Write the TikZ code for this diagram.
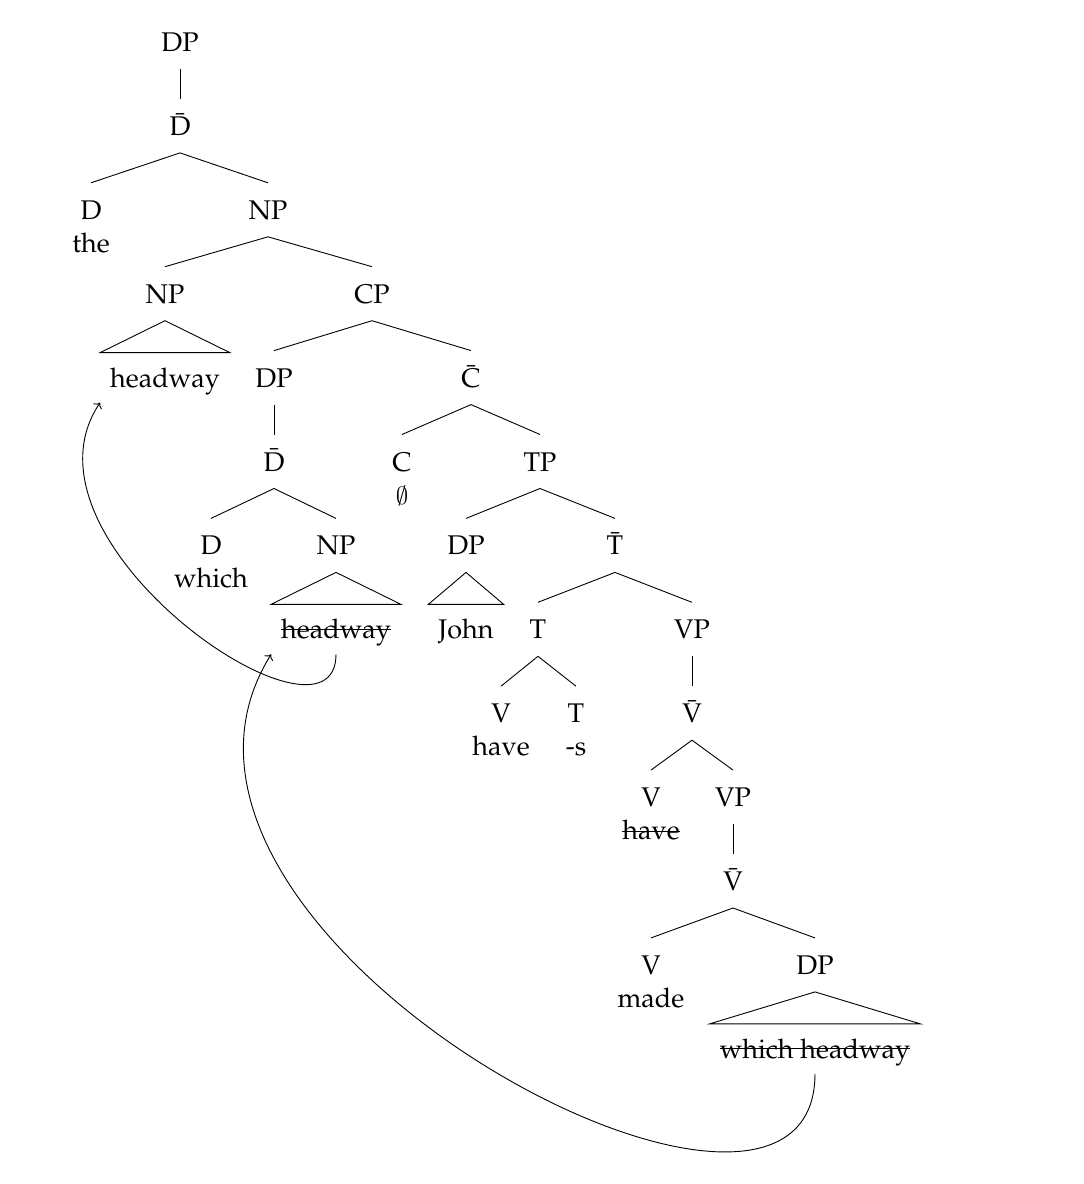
\documentclass[tikz,border=0pt]{standalone}
\usepackage[T1]{fontenc}
\usepackage{mathpazo}
\usetikzlibrary{arrows.meta}
\newcommand\cmempty{{\usefont{OMS}{cmsy}{m}{n}\char"3B}}
\begin{document}
\begin{tikzpicture}[x=1pt,y=-1pt,line width=0.9pt,
  every node/.style={font=\fontsize{27}{32}\selectfont},
  cat/.style={anchor=base,text height=19pt,text depth=0pt,inner xsep=1pt,inner ysep=0pt,outer xsep=0pt,outer ysep=17.5pt},
  lex/.style={anchor=base,inner sep=0pt},
  wordnode/.style={anchor=base,text height=19pt,text depth=0pt,inner sep=0pt,outer xsep=10pt,outer ysep=15.5pt},
  mv/.style={-{To[length=5pt,width=10pt]}}]
\useasboundingbox (0,0) rectangle (1084,1184);
% row baselines: 51.5 + 83.9 k
\node[cat] (dp1) at (180,51.5) {DP};
\node[cat] (db1) at (180,135.4) {\=D};
\node[cat] (d1) at (91,219.3) {D};
\node[lex] (the) at (91,252.3) {the};
\node[cat] (np1) at (268,219.3) {NP};
\node[cat] (np2) at (165,303.2) {NP};
\node[cat] (cp) at (372,303.2) {CP};
\node[wordnode] (hw1) at (165,387.1) {headway};
\node[cat] (dp2) at (274,387.1) {DP};
\node[cat] (cb) at (471,387.1) {\=C};
\node[cat] (db2) at (274,471.0) {\=D};
\node[cat] (c) at (402,471.0) {C};
\node[lex,font=\fontsize{29}{34}\selectfont] (empty) at (402,504.0) {\cmempty};
\node[cat] (tp) at (540,471.0) {TP};
\node[cat] (d2) at (211,554.9) {D};
\node[lex] (which) at (211,587.9) {which};
\node[cat] (np3) at (336,554.9) {NP};
\node[cat] (dp3) at (466,554.9) {DP};
\node[cat] (tb) at (615,554.9) {\=T};
\node[wordnode] (hw2) at (336,638.8) {headway};
\node[wordnode] (john) at (466,638.8) {John};
\node[cat] (t1) at (538,638.8) {T};
\node[cat] (vp1) at (692,638.8) {VP};
\node[cat] (v1) at (501,722.7) {V};
\node[lex] (have1) at (501,755.7) {have};
\node[cat] (t2) at (576,722.7) {T};
\node[lex] (s) at (576,755.7) {-s};
\node[cat] (vb1) at (692,722.7) {\=V};
\node[cat] (v2) at (651,806.6) {V};
\node[lex] (have2) at (651,839.6) {have};
\node[cat] (vp2) at (733,806.6) {VP};
\node[cat] (vb2) at (733,890.5) {\=V};
\node[cat] (v3) at (651,974.4) {V};
\node[lex] (made) at (651,1007.4) {made};
\node[cat] (dp4) at (815,974.4) {DP};
\node[wordnode] (wh) at (815,1058.3) {which headway};
% branches
\draw (dp1.south) -- (db1.north);
\draw (db1.south) -- (d1.north);
\draw (db1.south) -- (np1.north);
\draw (np1.south) -- (np2.north);
\draw (np1.south) -- (cp.north);
\draw (cp.south) -- (dp2.north);
\draw (cp.south) -- (cb.north);
\draw (dp2.south) -- (db2.north);
\draw (db2.south) -- (d2.north);
\draw (db2.south) -- (np3.north);
\draw (cb.south) -- (c.north);
\draw (cb.south) -- (tp.north);
\draw (tp.south) -- (dp3.north);
\draw (tp.south) -- (tb.north);
\draw (tb.south) -- (t1.north);
\draw (tb.south) -- (vp1.north);
\draw (t1.south) -- (v1.north);
\draw (t1.south) -- (t2.north);
\draw (vp1.south) -- (vb1.north);
\draw (vb1.south) -- (v2.north);
\draw (vb1.south) -- (vp2.north);
\draw (vp2.south) -- (vb2.north);
\draw (vb2.south) -- (v3.north);
\draw (vb2.south) -- (dp4.north);
% triangles
\draw (np2.south) -- (hw1.north west) -- (hw1.north east) -- cycle;
\draw (np3.south) -- (hw2.north west) -- (hw2.north east) -- cycle;
\draw (dp3.south) -- (john.north west) -- (john.north east) -- cycle;
\draw (dp4.south) -- (wh.north west) -- (wh.north east) -- cycle;
% strike-throughs
\draw ([xshift=10pt]hw2.west) -- ([xshift=-10pt]hw2.east);
\draw ([xshift=10pt]wh.west) -- ([xshift=-10pt]wh.east);
\draw ([yshift=8.5pt]have2.base west) -- ([yshift=8.5pt]have2.base east);
% movement arrows
\draw[mv] (hw2.south) .. controls +(0,112) and +(-95,140) .. (hw1.south west);
\draw[mv] (wh.south) .. controls +(0,245) and +(-175,280) .. (hw2.south west);
\end{tikzpicture}
\end{document}
